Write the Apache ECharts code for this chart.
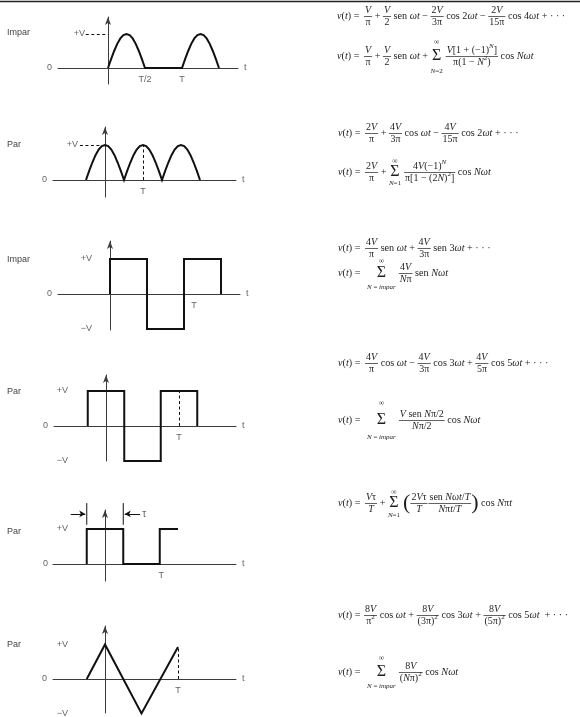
<!DOCTYPE html>
<html><head><meta charset="utf-8">
<script src="https://cdn.jsdelivr.net/npm/echarts@6/dist/echarts.min.js"></script>
<style>html,body{margin:0;padding:0;background:#fff}#c{width:580px;height:717px}</style>
</head><body><div id="c"></div>
<script>
// ---------------- data (x in periods T, y in units of V) ----------------
const humpProfile = [0,0.26,0.5,0.71,0.87,0.97,1,0.97,0.87,0.71,0.5,0.26,0];
const p1Humps = [[0,0.5],[1,1.5]];
const p2Humps = [[-0.5,0.5],[0.5,1.5],[1.5,2.5]];
const p3Wave = [[0,0],[0,1],[0.5,1],[0.5,-1],[1,-1],[1,1],[1.5,1],[1.5,0]];
const p4Wave = [[-0.25,0],[-0.25,1],[0.25,1],[0.25,-1],[0.75,-1],[0.75,1],[1.25,1],[1.25,0]];
const p5Wave = [[-0.25,0],[-0.25,1],[0.25,1],[0.25,0],[0.75,0],[0.75,1],[1,1]];
const p6Wave = [[-0.25,0],[0,1],[0.5,-1],[1,0.93]];

const p1Dash = [[[-0.3,1],[0,1]]];
const p2Dash = [[[-0.66,1],[0,1]],[[1,0],[1,1]]];
const p4Dash = [[[1,0],[1,1]]];
const p6Dash = [[[1,0],[1,0.93]]];
const p5TauLines = [[[-0.25,1.12],[-0.25,1.74]],[[0.25,1.12],[0.25,1.74]]];
const p5TauArrows = [[[-0.47,1.43],[-0.27,1.43]],[[0.48,1.43],[0.27,1.43]]];

const p1Levels = [[1,'+V'],[0,'0']];
const p2Levels = [[1,'+V'],[0,'0']];
const p3Levels = [[1,'+V'],[0,'0'],[-1,'\u2212V']];
const p4Levels = [[1,'+V'],[0,'0'],[-1,'\u2212V']];
const p5Levels = [[1,'+V'],[0,'0']];
const p6Levels = [[1,'+V'],[0,'0'],[-1,'\u2212V']];

const p1Ticks = [[0.5,'T/2'],[1,'T']];
const p2Ticks = [[1,'T']];
const p3Ticks = [[1,'T']];
const p4Ticks = [[1,'T']];
const p5Ticks = [[0.77,'T']];
const p6Ticks = [[1,'T']];
const panelNames = ['Impar','Par','Impar','Par','Par','Par'];

// ---------------- layout (pixels) ----------------
const LAY = [
 {left:58,right:238,top:17,bottom:84,x0:108,y0:68,sx:74,sy:34,vx:85,zx:52,ny:33},
 {left:53,right:236,top:127,bottom:197,x0:105,y0:180,sx:38,sy:35,vx:78,zx:47,ny:145},
 {left:58,right:240,top:241,bottom:330,x0:110,y0:294,sx:74,sy:35,vx:92,zx:52,ny:260,tdx:10},
 {left:54,right:236,top:375,bottom:461,x0:106,y0:426,sx:73,sy:35,vx:68,zx:48,ny:392},
 {left:53,right:236,top:510,bottom:581,x0:105,y0:564,sx:73,sy:35,vx:68,zx:48,ny:532},
 {left:53,right:236,top:626,bottom:713,x0:105,y0:679,sx:73,sy:34.5,vx:68,zx:47,ny:645}
];

function humpsToLine(humps){
  const pts=[];
  humps.forEach(([a,b])=>humpProfile.forEach((v,k)=>pts.push([a+(b-a)*k/(humpProfile.length-1), v])));
  return pts;
}
const p1Wave = humpsToLine(p1Humps);
const p2Wave = humpsToLine(p2Humps);

const PANELS = [
 {wave:p1Wave, dash:p1Dash, levels:p1Levels, ticks:p1Ticks},
 {wave:p2Wave, dash:p2Dash, levels:p2Levels, ticks:p2Ticks},
 {wave:p3Wave, dash:[], levels:p3Levels, ticks:p3Ticks},
 {wave:p4Wave, dash:p4Dash, levels:p4Levels, ticks:p4Ticks},
 {wave:p5Wave, dash:[], levels:p5Levels, ticks:p5Ticks},
 {wave:p6Wave, dash:p6Dash, levels:p6Levels, ticks:p6Ticks}
];

const AX='#3c3c3c', WAVE='#111', LAB='#3a3a3a', INK='#1e1e1e';
const SANS="'Liberation Sans', Arial, sans-serif";
const SERIF="'Liberation Serif', 'Times New Roman', serif";

const grid=[], xAxis=[], yAxis=[], series=[];
PANELS.forEach((P,i)=>{
  const L=LAY[i];
  grid.push({left:L.left, top:L.top, width:L.right-L.left, height:L.bottom-L.top});
  const xmin=(L.left-L.x0)/L.sx, xmax=(L.right-L.x0)/L.sx;
  const ymax=(L.y0-L.top)/L.sy, ymin=(L.y0-L.bottom)/L.sy;
  xAxis.push({gridIndex:i,type:'value',min:xmin,max:xmax,
    axisLine:{show:true,onZero:true,lineStyle:{color:AX,width:1}},
    axisTick:{show:false},axisLabel:{show:false},splitLine:{show:false}});
  yAxis.push({gridIndex:i,type:'value',min:ymin,max:ymax,
    axisLine:{show:true,onZero:true,symbol:['none','arrow'],symbolSize:[4.5,8],lineStyle:{color:AX,width:1}},
    axisTick:{show:false},axisLabel:{show:false},splitLine:{show:false}});
  series.push({type:'line',xAxisIndex:i,yAxisIndex:i,data:P.wave,symbol:'none',showSymbol:false,
    lineStyle:{color:WAVE,width:2,join:'miter'},clip:false,silent:true,animation:false,z:5,
    markLine:{silent:true,animation:false,symbol:['none','none'],label:{show:false},
      lineStyle:{type:[3,2.5],color:WAVE,width:1},
      data:P.dash.map(s=>[{coord:s[0]},{coord:s[1]}])}});
  const items=[];
  P.levels.forEach(([v,t])=>items.push({value:[((v===0?L.zx:L.vx)-L.x0)/L.sx, v],label:{formatter:t,align:'right'}}));
  P.ticks.forEach(([v,t])=>items.push({value:[v,0],label:{formatter:t,align:'center',offset:[L.tdx||0,12]}}));
  items.push({value:[xmax,0],label:{formatter:'t',align:'left',offset:[6,0]}});
  series.push({type:'scatter',xAxisIndex:i,yAxisIndex:i,data:items,symbolSize:1,
    itemStyle:{color:'rgba(0,0,0,0)'},clip:false,silent:true,animation:false,
    label:{show:true,position:'inside',verticalAlign:'middle',color:LAB,fontFamily:SANS,fontSize:9}});
});
// tau markers (panel 5)
p5TauLines.forEach(seg=>series.push({type:'line',xAxisIndex:4,yAxisIndex:4,data:seg,symbol:'none',showSymbol:false,
  lineStyle:{color:WAVE,width:1},clip:false,silent:true,animation:false}));
series.push({type:'line',xAxisIndex:4,yAxisIndex:4,data:[],clip:false,silent:true,animation:false,
  markLine:{silent:true,animation:false,symbol:['none','arrow'],symbolSize:[5,6],label:{show:false},
    lineStyle:{type:'solid',color:WAVE,width:1},
    data:p5TauArrows.map(s=>[{coord:s[0]},{coord:s[1]}])}});
series.push({type:'scatter',xAxisIndex:4,yAxisIndex:4,data:[{value:[0.51,1.43]}],symbolSize:1,
  itemStyle:{color:'rgba(0,0,0,0)'},clip:false,silent:true,animation:false,
  label:{show:true,position:'inside',formatter:'\u03c4',align:'left',verticalAlign:'middle',color:LAB,fontFamily:SANS,fontSize:10}});

// ---------------- formula typesetting ----------------
const cv=document.createElement('canvas').getContext('2d');
const MAIN=10.2, FR=10, LIM=7, SIG=16, INF=7.5, FOFF=6;
function fnt(st,size){return ((st==='i'||st==='supi')?'italic ':'')+size+'px '+SERIF;}
function mw(s,f){cv.font=f;return cv.measureText(s).width;}
const G=[];
function txt(s,x,y,f,align){G.push({type:'text',x:x,y:y,silent:true,style:{text:s,font:f,fill:INK,align:align||'left',verticalAlign:'middle'}});}
function isSup(st){return st==='sup'||st==='supi';}
function runW(parts,size){let w=0;parts.forEach(([s,st])=>{w+=mw(s,fnt(st,isSup(st)?size*0.7:size));});return w;}
function drawRun(parts,x,y,size){parts.forEach(([s,st])=>{const sz=isSup(st)?size*0.7:size;const f=fnt(st,sz);txt(s,x,isSup(st)?y-size*0.42:y,f);x+=mw(s,f);});return x;}
const r=s=>[s,'r'], i_=s=>[s,'i'], sp=s=>[s,'sup'], spi=s=>[s,'supi'];
const T=(...p)=>({k:'t',p}), F=(n,d)=>({k:'f',n,d}), S=(b,up,dn)=>({k:'s',b,up,dn}), P=s=>({k:'p',s}), Gp=w=>({k:'g',w});
function layout(tokens,x,y){
  tokens.forEach(tok=>{
    if(tok.k==='t'){x=drawRun(tok.p,x,y,MAIN);}
    else if(tok.k==='g'){x+=tok.w;}
    else if(tok.k==='f'){
      const wn=runW(tok.n,FR), wd=runW(tok.d,FR), w=Math.max(wn,wd)+2;
      drawRun(tok.n,x+(w-wn)/2,y-FOFF,FR); drawRun(tok.d,x+(w-wd)/2,y+FOFF,FR);
      G.push({type:'line',silent:true,shape:{x1:x,y1:y+0.5,x2:x+w,y2:y+0.5},style:{stroke:INK,lineWidth:0.7}});
      x+=w;
    } else if(tok.k==='s'){
      const fs=fnt('r',SIG), ws=mw('\u03a3',fs), wl=runW(tok.b,LIM), wi=mw('\u221e',fnt('r',INF));
      const w=Math.max(ws,wl,wi), cx=x+w/2;
      txt('\u03a3',cx,y,fs,'center'); txt('\u221e',cx,y-tok.up,fnt('r',INF),'center');
      drawRun(tok.b,cx-wl/2,y+tok.dn,LIM);
      x+=w+3;
    } else if(tok.k==='p'){
      const f=fnt('r',22); txt(tok.s,x,y,f); x+=mw(tok.s,f);
    }
  });
}
const eq=()=>T(i_('v'),r('('),i_('t'),r(') = '));
const FORMULAS=[
 [337,16,[eq(),Gp(2),F([i_('V')],[r('\u03c0')]),T(r(' + ')),F([i_('V')],[r('2')]),T(r(' sen '),i_('\u03c9t'),r(' \u2212 ')),F([r('2'),i_('V')],[r('3\u03c0')]),T(r(' cos 2'),i_('\u03c9t'),r(' \u2212 ')),F([r('2'),i_('V')],[r('15\u03c0')]),T(r(' cos 4'),i_('\u03c9t'),r(' + \u00b7 \u00b7 \u00b7'))]],
 [337,56,[eq(),Gp(2),F([i_('V')],[r('\u03c0')]),T(r(' + ')),F([i_('V')],[r('2')]),T(r(' sen '),i_('\u03c9t'),r(' + ')),S([i_('N'),r('=2')],14,15),F([i_('V'),r('[1 + (\u22121)'),spi('N'),r(']')],[r('\u03c0(1 \u2212 '),i_('N'),sp('2'),r(')')]),T(r(' cos '),i_('N\u03c9t'))]],
 [338,133,[eq(),Gp(2),F([r('2'),i_('V')],[r('\u03c0')]),T(r(' + ')),F([r('4'),i_('V')],[r('3\u03c0')]),T(r(' cos '),i_('\u03c9t'),r(' \u2212 ')),F([r('4'),i_('V')],[r('15\u03c0')]),T(r(' cos 2'),i_('\u03c9t'),r(' + \u00b7 \u00b7 \u00b7'))]],
 [338,172,[eq(),Gp(2),F([r('2'),i_('V')],[r('\u03c0')]),T(r(' + ')),S([i_('N'),r('=1')],11,11),F([r('4'),i_('V'),r('(\u22121)'),spi('N')],[r('\u03c0[1 \u2212 (2'),i_('N'),r(')'),sp('2'),r(']')]),T(r(' cos '),i_('N\u03c9t'))]],
 [338,248,[eq(),Gp(2),F([r('4'),i_('V')],[r('\u03c0')]),T(r(' sen '),i_('\u03c9t'),r(' + ')),F([r('4'),i_('V')],[r('3\u03c0')]),T(r(' sen 3'),i_('\u03c9t'),r(' + \u00b7 \u00b7 \u00b7'))]],
 [338,273,[eq(),Gp(4),S([i_('N'),r(' = '),i_('impar')],12,14),F([r('4'),i_('V')],[i_('N'),r('\u03c0')]),T(r(' sen '),i_('N\u03c9t'))]],
 [338,363,[eq(),Gp(2),F([r('4'),i_('V')],[r('\u03c0')]),T(r(' cos '),i_('\u03c9t'),r(' \u2212 ')),F([r('4'),i_('V')],[r('3\u03c0')]),T(r(' cos 3'),i_('\u03c9t'),r(' + ')),F([r('4'),i_('V')],[r('5\u03c0')]),T(r(' cos 5'),i_('\u03c9t'),r(' + \u00b7 \u00b7 \u00b7'))]],
 [338,420,[eq(),Gp(4),S([i_('N'),r(' = '),i_('impar')],17,17),F([i_('V'),r(' sen '),i_('N'),r('\u03c0/2')],[i_('N'),r('\u03c0/2')]),T(r(' cos '),i_('N\u03c9t'))]],
 [338,503,[eq(),Gp(2),F([i_('V'),r('\u03c4')],[i_('T')]),T(r(' + ')),S([i_('N'),r('=1')],11,12),P('('),F([r('2'),i_('V'),r('\u03c4')],[i_('T')]),Gp(1),F([r('sen '),i_('N\u03c9t'),r('/'),i_('T')],[i_('N'),r('\u03c0'),i_('t'),r('/'),i_('T')]),P(')'),T(r(' cos '),i_('N'),r('\u03c0'),i_('t'))]],
 [338,615,[eq(),Gp(1),F([r('8'),i_('V')],[r('\u03c0'),sp('2')]),T(r(' cos '),i_('\u03c9t'),r(' + ')),F([r('8'),i_('V')],[r('(3\u03c0)'),sp('2')]),T(r(' cos 3'),i_('\u03c9t'),r(' + ')),F([r('8'),i_('V')],[r('(5\u03c0)'),sp('2')]),T(r(' cos 5'),i_('\u03c9t'),r('  + \u00b7 \u00b7 \u00b7'))]],
 [338,672,[eq(),Gp(4),S([i_('N'),r(' = '),i_('impar')],14,14),F([r('8'),i_('V')],[r('('),i_('N'),r('\u03c0)'),sp('2')]),T(r(' cos '),i_('N\u03c9t'))]]
];
FORMULAS.forEach(([x,y,t])=>layout(t,x,y));
// panel titles and top rule
panelNames.forEach((n,k)=>G.push({type:'text',x:7,y:LAY[k].ny,silent:true,style:{text:n,font:'9px '+SANS,fill:'#444',align:'left',verticalAlign:'middle'}}));
G.push({type:'line',silent:true,shape:{x1:0,y1:1.5,x2:580,y2:1.5},style:{stroke:'#222',lineWidth:1.5}});

const chart=echarts.init(document.getElementById('c'),null,{renderer:'canvas'});
chart.setOption({animation:false,backgroundColor:'#fff',grid,xAxis,yAxis,series,graphic:{elements:G}});
</script></body></html>
